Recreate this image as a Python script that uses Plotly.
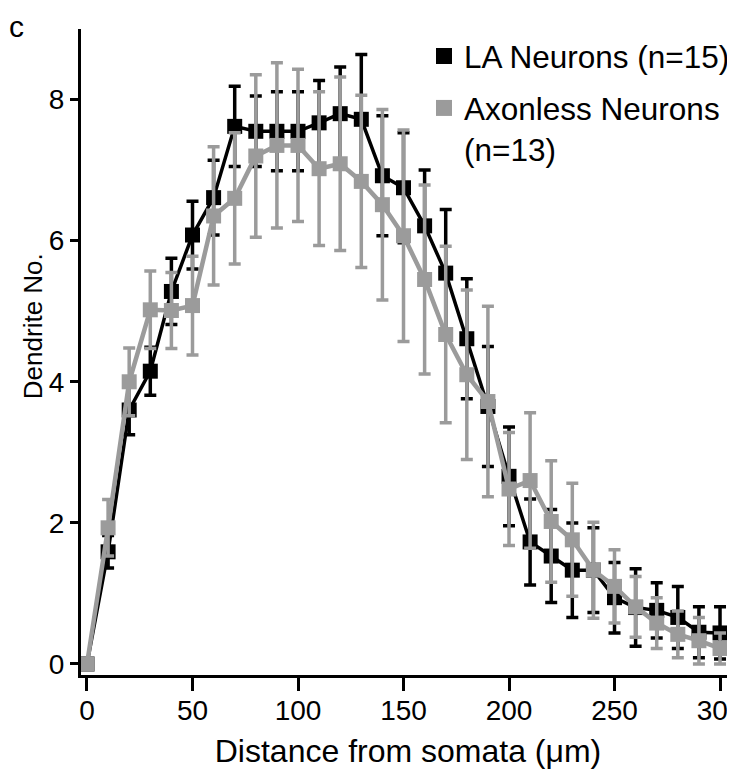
import plotly.graph_objects as go

# distance from soma (um), one point every 10 um
distance = [0, 10, 20, 30, 40, 50, 60, 70, 80, 90, 100, 110, 120, 130, 140, 150,
            160, 170, 180, 190, 200, 210, 220, 230, 240, 250, 260, 270, 280, 290, 300]

# LA neurons (n=15): mean dendrite number and SEM
la_mean = [0, 1.59, 3.6, 4.15, 5.28, 6.08, 6.61, 7.62, 7.55, 7.55, 7.55, 7.67, 7.8, 7.72,
           6.92, 6.75, 6.21, 5.54, 4.61, 3.65, 2.66, 1.73, 1.53, 1.33, 1.33, 0.94, 0.8,
           0.76, 0.66, 0.45, 0.44]
la_err = [0, 0.23, 0.35, 0.34, 0.47, 0.48, 0.53, 0.57, 0.5, 0.56, 0.56, 0.6, 0.66, 0.92,
          0.85, 0.78, 0.79, 0.9, 0.85, 0.85, 0.7, 0.61, 0.66, 0.67, 0.6, 0.5, 0.55, 0.39,
          0.44, 0.36, 0.37]

# axonless neurons (n=13)
ax_mean = [0, 1.93, 4.0, 5.02, 5.01, 5.08, 6.35, 6.6, 7.2, 7.35, 7.35, 7.02, 7.09, 6.84,
           6.51, 6.07, 5.45, 4.67, 4.1, 3.72, 2.48, 2.6, 2.02, 1.76, 1.33, 1.1, 0.81,
           0.58, 0.42, 0.33, 0.22]
ax_err = [0, 0.4, 0.48, 0.55, 0.54, 0.7, 0.98, 0.93, 1.15, 1.17, 1.08, 1.09, 1.23, 1.22,
          1.35, 1.5, 1.34, 1.25, 1.2, 1.35, 0.8, 0.96, 0.86, 0.8, 0.68, 0.52, 0.43, 0.36,
          0.33, 0.33, 0.22]

x_ticks = [0, 50, 100, 150, 200, 250, 300]
y_ticks = [0, 2, 4, 6, 8]

BLACK = "#000000"
GREY = "#9b9b9b"
FONT = "Liberation Sans, Arial, sans-serif"

fig = go.Figure()

fig.add_trace(go.Scatter(
    x=distance, y=la_mean, mode="lines+markers", showlegend=False,
    line=dict(color=BLACK, width=3.5),
    marker=dict(symbol="square", size=15, color=BLACK),
    error_y=dict(type="data", array=la_err, color=BLACK, thickness=3.5, width=6),
))
fig.add_trace(go.Scatter(
    x=distance, y=ax_mean, mode="lines+markers", showlegend=False,
    line=dict(color=GREY, width=4.5),
    marker=dict(symbol="square", size=15, color=GREY),
    error_y=dict(type="data", array=ax_err, color=GREY, thickness=3.5, width=6),
))

# legend entries show the square only
fig.add_trace(go.Scatter(
    x=[None], y=[None], mode="markers", name="LA Neurons (n=15)", legendgroup="la",
    marker=dict(symbol="square", size=16, color=BLACK),
))
fig.add_trace(go.Scatter(
    x=[None], y=[None], mode="markers", name="Axonless Neurons<br>(n=13)", legendgroup="ax",
    marker=dict(symbol="square", size=16, color=GREY),
))

# panel letter
fig.add_annotation(
    text="c", xref="paper", yref="paper", x=-0.098, y=1.0046, xanchor="center", yanchor="middle",
    showarrow=False, font=dict(family=FONT, size=30, color=BLACK),
)
# y title, sits a little above the axis middle in the original
fig.add_annotation(
    text="Dendrite No.", xref="paper", yref="paper", x=-0.0734, y=0.54, textangle=-90,
    xanchor="center", yanchor="middle", showarrow=False,
    font=dict(family=FONT, size=26, color=BLACK),
)

# the page body has an 8px margin, so margins are shifted to keep the plot box in place
fig.update_layout(
    width=735, height=771,
    margin=dict(l=73, r=8, t=21, b=104, autoexpand=False),
    paper_bgcolor="white", plot_bgcolor="white",
    font=dict(family=FONT, color=BLACK),
    legend=dict(
        x=1.0, y=1.0, xanchor="right", yanchor="top", traceorder="grouped",
        font=dict(family=FONT, size=31.5, color=BLACK),
        bgcolor="rgba(0,0,0,0)", tracegroupgap=8, valign="top",
    ),
    xaxis=dict(
        range=[-2.84, 307.1], tickvals=x_ticks, ticks="outside", ticklen=13, tickwidth=3,
        tickcolor=BLACK, showline=True, linecolor=BLACK, linewidth=3, showgrid=False,
        zeroline=False, tickfont=dict(family=FONT, size=28), ticklabeloverflow="allow",
        ticklabelstandoff=-5,
        title=dict(text="Distance from somata (\u03bcm)", font=dict(family=FONT, size=32), standoff=16),
    ),
    yaxis=dict(
        range=[-0.156, 9.0], tickvals=y_ticks, ticks="outside", ticklen=8, tickwidth=3,
        tickcolor=BLACK, showline=True, linecolor=BLACK, linewidth=3, showgrid=False,
        zeroline=False, tickfont=dict(family=FONT, size=28),
    ),
)

fig.write_html("out.html")
